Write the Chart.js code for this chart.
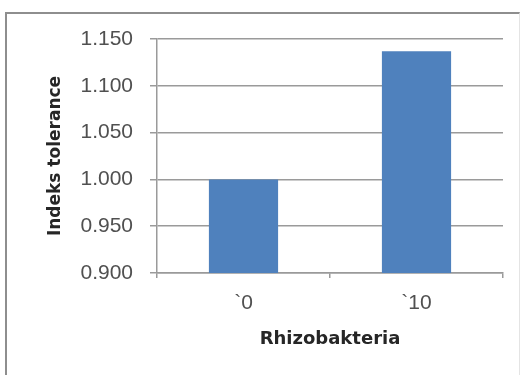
<!DOCTYPE html>
<html>
<head>
<meta charset="utf-8">
<script src="https://cdn.jsdelivr.net/npm/chart.js@4"></script>
<style>
  html, body { margin: 0; padding: 0; background: #ffffff; }
  #wrap { position: relative; width: 527px; height: 375px; overflow: hidden; }
  #frame {
    position: absolute; left: 5px; top: 12px; width: 515px; height: 380px;
    border-left: 2px solid #8e8e8e; border-top: 2px solid #8e8e8e;
    border-right: 1px solid #e4e4e4; box-sizing: border-box;
  }
  #c { position: absolute; left: 0; top: 0; }
</style>
</head>
<body>
<div id="wrap">
  <div id="frame"></div>
  <canvas id="c" width="527" height="375"></canvas>
</div>
<script>
// Tolerance index by rhizobacteria dose
const categories = ['`0', '`10'];
const toleranceIndex = [1.000, 1.137];
const yTicks = [0.900, 0.950, 1.000, 1.050, 1.100, 1.150];

const gridColor = '#9a9a9a';
const tickFont = { family: 'Liberation Sans', size: 21 };

new Chart(document.getElementById('c'), {
  type: 'bar',
  data: {
    labels: categories,
    datasets: [{
      data: toleranceIndex,
      backgroundColor: '#4F81BD',
      borderWidth: 0,
      categoryPercentage: 0.4,
      barPercentage: 1.0
    }]
  },
  options: {
    responsive: false,
    animation: false,
    layout: { padding: { left: 0, top: 39, right: 24, bottom: 0 } },
    plugins: { legend: { display: false }, tooltip: { enabled: false } },
    scales: {
      x: {
        grid: { display: true, drawOnChartArea: false, drawTicks: true, tickLength: 5, color: gridColor, lineWidth: 1.5 },
        border: { display: true, color: gridColor, width: 1.5 },
        ticks: { color: '#505050', font: tickFont, padding: 13 },
        title: {
          display: true, text: 'Rhizobakteria', color: '#262626',
          font: { family: 'DejaVu Sans', size: 18, weight: 'bold' },
          padding: { top: 0, bottom: 25 }
        },
        afterFit: (s) => { s.height = 102; }
      },
      y: {
        min: yTicks[0],
        max: yTicks[yTicks.length - 1],
        afterBuildTicks: (s) => { s.ticks = yTicks.map(v => ({ value: v })); },
        grid: { color: gridColor, lineWidth: 1.5, drawTicks: true, tickLength: 7 },
        border: { display: true, color: gridColor, width: 1.5 },
        ticks: {
          color: '#505050', font: tickFont, padding: 17,
          callback: (v) => Number(v).toFixed(3)
        },
        title: {
          display: true, text: 'Indeks tolerance', color: '#262626',
          font: { family: 'DejaVu Sans', size: 17, weight: 'bold' },
          padding: { top: 45, bottom: 0 }
        },
        afterFit: (s) => { s.width = 157; }
      }
    }
  }
});
</script>
</body>
</html>
